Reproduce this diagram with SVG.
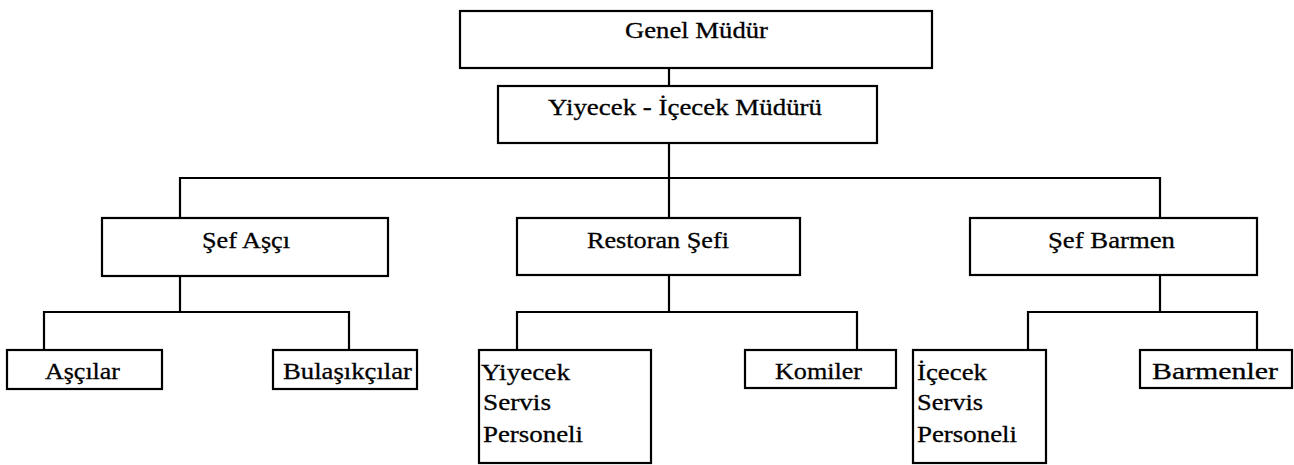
<svg xmlns="http://www.w3.org/2000/svg" width="1294" height="465" viewBox="0 0 1294 465">
  <style>
    .box { fill: #ffffff; stroke: #000000; stroke-width: 2.2; }
    #connectors path { fill: none; stroke: #000000; stroke-width: 2.2; }
  </style>
  <rect x="0" y="0" width="1294" height="465" fill="#ffffff"/>

  <!-- reporting lines -->
  <g id="connectors">
    <path d="M669,68 V86"/>
    <path d="M669,143 V218"/>
    <path d="M180,218 V178 H1160 V218"/>
    <path d="M180,276 V312"/>
    <path d="M44,350 V312 H349 V350"/>
    <path d="M669,275 V312"/>
    <path d="M517,350 V312 H857 V350"/>
    <path d="M1160,275 V312"/>
    <path d="M1028,350 V312 H1257 V350"/>
  </g>

  <g font-family="Liberation Serif, serif" font-size="24" fill="#000000" stroke="#000000" stroke-width="0.3">
  <g id="genel-mudur">
    <rect class="box" x="460" y="11" width="472" height="57"/>
    <text x="625" y="38" textLength="143" lengthAdjust="spacingAndGlyphs">Genel Müdür</text>
  </g>

  <g id="yiyecek-icecek-muduru">
    <rect class="box" x="498" y="86" width="379" height="57"/>
    <text x="548" y="115" textLength="274" lengthAdjust="spacingAndGlyphs">Yiyecek - İçecek Müdürü</text>
  </g>

  <g id="sef-asci">
    <rect class="box" x="102" y="218" width="286" height="58"/>
    <text x="202" y="248" textLength="88" lengthAdjust="spacingAndGlyphs">Şef Aşçı</text>
  </g>

  <g id="restoran-sefi">
    <rect class="box" x="517" y="218" width="283" height="57"/>
    <text x="587" y="248" textLength="142" lengthAdjust="spacingAndGlyphs">Restoran Şefi</text>
  </g>

  <g id="sef-barmen">
    <rect class="box" x="970" y="218" width="287" height="57"/>
    <text x="1048" y="248" textLength="127" lengthAdjust="spacingAndGlyphs">Şef Barmen</text>
  </g>

  <g id="ascilar">
    <rect class="box" x="7" y="350" width="155" height="39"/>
    <text x="45" y="379" textLength="75" lengthAdjust="spacingAndGlyphs">Aşçılar</text>
  </g>

  <g id="bulasikcilar">
    <rect class="box" x="273" y="350" width="144" height="39"/>
    <text x="283" y="379" textLength="129" lengthAdjust="spacingAndGlyphs">Bulaşıkçılar</text>
  </g>

  <g id="yiyecek-servis-personeli">
    <rect class="box" x="479" y="350" width="172" height="113"/>
    <text x="481" y="380" textLength="89" lengthAdjust="spacingAndGlyphs">Yiyecek</text>
    <text x="483" y="410" textLength="68" lengthAdjust="spacingAndGlyphs">Servis</text>
    <text x="483" y="442" textLength="100" lengthAdjust="spacingAndGlyphs">Personeli</text>
  </g>

  <g id="komiler">
    <rect class="box" x="745" y="350" width="151" height="38"/>
    <text x="775" y="379" textLength="87" lengthAdjust="spacingAndGlyphs">Komiler</text>
  </g>

  <g id="icecek-servis-personeli">
    <rect class="box" x="913" y="350" width="133" height="113"/>
    <text x="917" y="380" textLength="70" lengthAdjust="spacingAndGlyphs">İçecek</text>
    <text x="917" y="410" textLength="66" lengthAdjust="spacingAndGlyphs">Servis</text>
    <text x="917" y="442" textLength="100" lengthAdjust="spacingAndGlyphs">Personeli</text>
  </g>

  <g id="barmenler">
    <rect class="box" x="1140" y="350" width="152" height="38"/>
    <text x="1152" y="379" textLength="126" lengthAdjust="spacingAndGlyphs">Barmenler</text>
  </g>
  </g>
</svg>
